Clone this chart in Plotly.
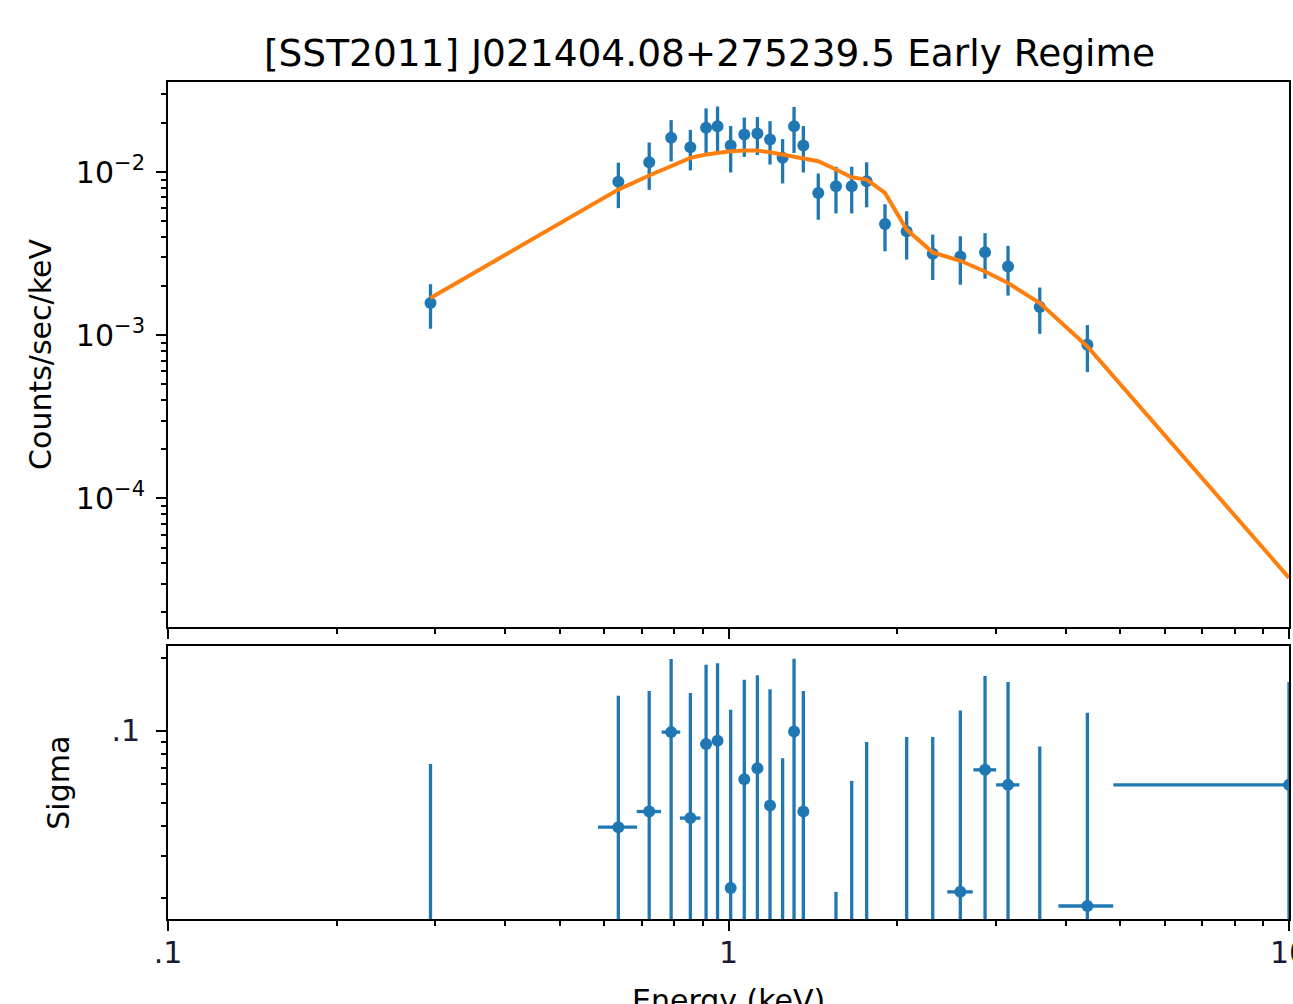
import plotly.graph_objects as go

# ---------------- data ----------------
energy = [0.294, 0.636, 0.722, 0.790, 0.855, 0.912, 0.956, 1.009, 1.067, 1.126,
          1.186, 1.249, 1.309, 1.360, 1.446, 1.555, 1.659, 1.764, 1.902, 2.079,
          2.314, 2.592, 2.869, 3.153, 3.592, 4.368]
counts = [1.576e-3, 8.71e-3, 1.148e-2, 1.622e-2, 1.419e-2, 1.867e-2, 1.910e-2,
          1.454e-2, 1.698e-2, 1.722e-2, 1.582e-2, 1.222e-2, 1.910e-2, 1.454e-2,
          7.45e-3, 8.18e-3, 8.18e-3, 8.78e-3, 4.81e-3, 4.33e-3, 3.16e-3,
          3.04e-3, 3.22e-3, 2.64e-3, 1.49e-3, 8.74e-4]
counts_err = [0.48e-3, 2.7e-3, 3.7e-3, 4.6e-3, 3.95e-3, 5.9e-3, 6.1e-3, 4.6e-3,
              4.6e-3, 4.5e-3, 4.7e-3, 3.7e-3, 6.0e-3, 4.6e-3, 2.35e-3, 2.6e-3,
              2.6e-3, 2.7e-3, 1.54e-3, 1.42e-3, 0.98e-3, 1.0e-3, 1.0e-3,
              0.89e-3, 0.47e-3, 2.8e-4]

model_energy = energy + [10.0]
model = [1.691e-3, 7.81e-3, 9.52e-3, 1.096e-2, 1.222e-2, 1.281e-2, 1.312e-2,
         1.341e-2, 1.355e-2, 1.355e-2, 1.323e-2, 1.281e-2, 1.250e-2, 1.222e-2,
         1.165e-2, 1.036e-2, 9.29e-3, 8.99e-3, 7.45e-3, 4.44e-3, 3.22e-3,
         2.86e-3, 2.46e-3, 2.09e-3, 1.576e-3, 8.54e-4, 3.26e-5]

resid_energy = energy + [10.0]
resid_halfwidth = [0.10, 0.051, 0.036, 0.030, 0.036, 0.02, 0.02, 0.02, 0.02, 0.02,
                   0.02, 0.02, 0.02, 0.02, 0.04, 0.05, 0.05, 0.06, 0.07, 0.09,
                   0.12, 0.136, 0.134, 0.150, 0.22, 0.49, 5.14]
sigma = [-0.0274, 0.0396, 0.0460, 0.0985, 0.0432, 0.0878, 0.0906, 0.0221,
         0.0627, 0.0697, 0.0487, -0.0233, 0.0990, 0.0460, -0.170, -0.0787,
         -0.0383, -0.0105, -0.160, -0.0061, -0.0061, 0.0213, 0.0686, 0.0594,
         -0.0142, 0.0186, 0.0594]
sigma_err = [0.1, 0.1, 0.1, 0.1, 0.1, 0.1, 0.1, 0.1, 0.1, 0.1, 0.1, 0.1, 0.1,
             0.1, 0.1, 0.1, 0.1, 0.1, 0.1, 0.1, 0.1, 0.1, 0.1, 0.1, 0.1, 0.1, 0.1]

x_tickvals = [0.1, 1, 10]
x_ticktext = ['.1', '1', '10']
top_tickvals = [1e-4, 1e-3, 1e-2]
top_ticktext = ['10<sup>\u22124</sup>', '10<sup>\u22123</sup>', '10<sup>\u22122</sup>']
bot_tickvals = [0.1]
bot_ticktext = ['.1']

# ---------------- style ----------------
BLUE = '#1f77b4'
ORANGE = '#ff7f0e'
FONT = 'DejaVu Sans'
top_range = [-4.788, -1.448]
bot_range = [-1.7846, -0.65]

x_minor = [k * 10.0 ** p for p in (-1, 0) for k in range(2, 10)]
top_minor = [k * 10.0 ** p for p in (-5, -4, -3, -2) for k in range(2, 10)]
bot_minor = [k * 0.01 for k in range(2, 10)] + [0.2]

fig = go.Figure()

# spectrum data points
fig.add_trace(go.Scatter(
    x=energy, y=counts, mode='markers',
    marker=dict(color=BLUE, size=12),
    error_y=dict(type='data', array=counts_err, color=BLUE, thickness=3.3, width=0),
    xaxis='x', yaxis='y', showlegend=False))

# model
fig.add_trace(go.Scatter(
    x=model_energy, y=model, mode='lines',
    line=dict(color=ORANGE, width=4),
    xaxis='x', yaxis='y', showlegend=False))

# residual error bars for negative residuals (not representable on a log axis)
floor_val = 10 ** bot_range[0] / 2
seg_x, seg_y = [], []
for e, s, err in zip(resid_energy, sigma, sigma_err):
    if s <= 0 and s + err > 0:
        seg_x += [e, e, None]
        seg_y += [floor_val, s + err, None]
fig.add_trace(go.Scatter(
    x=seg_x, y=seg_y, mode='lines', line=dict(color=BLUE, width=3.3),
    xaxis='x2', yaxis='y2', showlegend=False, connectgaps=False))

# residual points
fig.add_trace(go.Scatter(
    x=resid_energy, y=sigma, mode='markers',
    marker=dict(color=BLUE, size=12),
    error_y=dict(type='data', array=sigma_err, color=BLUE, thickness=3.3, width=0),
    error_x=dict(type='data', array=resid_halfwidth, color=BLUE, thickness=3.3, width=0),
    xaxis='x2', yaxis='y2', showlegend=False))

axis_common = dict(
    type='log', showgrid=False, zeroline=False, showline=True, linecolor='black',
    linewidth=2, mirror=True, ticks='outside', ticklen=10, tickwidth=2,
    tickcolor='black', automargin=False,
    tickfont=dict(family=FONT, size=30, color='black'))

minor_style = dict(ticks='outside', ticklen=5, tickwidth=1.5, tickcolor='black')

fig.update_layout(
    width=1293, height=1004,
    margin=dict(l=168, r=4, t=82, b=85),
    paper_bgcolor='white', plot_bgcolor='white',
    font=dict(family=FONT, color='black'),
    title=dict(text='[SST2011] J021404.08+275239.5 Early Regime',
               x=0.5487, xanchor='center', xref='container',
               y=0.9472, yanchor='middle', yref='container',
               font=dict(family=FONT, size=37.5, color='black')),
    xaxis=dict(axis_common, range=[-1, 1], anchor='y', domain=[0, 1],
               tickvals=x_tickvals, showticklabels=False,
               minor=dict(minor_style, tickvals=x_minor)),
    yaxis=dict(axis_common, range=top_range, anchor='x', domain=[0.3489, 1],
               tickvals=top_tickvals, ticktext=top_ticktext,
               ticklabelstandoff=5,
               minor=dict(minor_style, tickvals=top_minor),
               title=dict(text='Counts/sec/keV', standoff=15,
                          font=dict(family=FONT, size=30, color='black'))),
    xaxis2=dict(axis_common, range=[-1, 1], anchor='y2', domain=[0, 1],
                tickvals=x_tickvals, ticktext=x_ticktext,
                ticklabelstandoff=-4, ticklabeloverflow='allow',
                tickfont=dict(family=FONT, size=30, color='#1a1a33'),
                minor=dict(minor_style, tickvals=x_minor)),
    yaxis2=dict(axis_common, range=bot_range, anchor='x2', domain=[0, 0.3256],
                tickvals=bot_tickvals, ticktext=bot_ticktext,
                ticklabelstandoff=10,
                tickfont=dict(family=FONT, size=30, color='#1a1a33'),
                minor=dict(minor_style, tickvals=bot_minor),
                title=dict(text='Sigma', standoff=33,
                           font=dict(family=FONT, size=30, color='black'))),
    annotations=[dict(text='Energy (keV)', xref='paper', yref='paper',
                      x=0.5, y=0, xanchor='center', yanchor='top', yshift=-62,
                      showarrow=False,
                      font=dict(family=FONT, size=30, color='black'))],
)

fig.write_html('out.html',
               config={'displayModeBar': False},
               post_script="document.body.style.margin='0px';"
                           "document.body.style.overflow='hidden';")
